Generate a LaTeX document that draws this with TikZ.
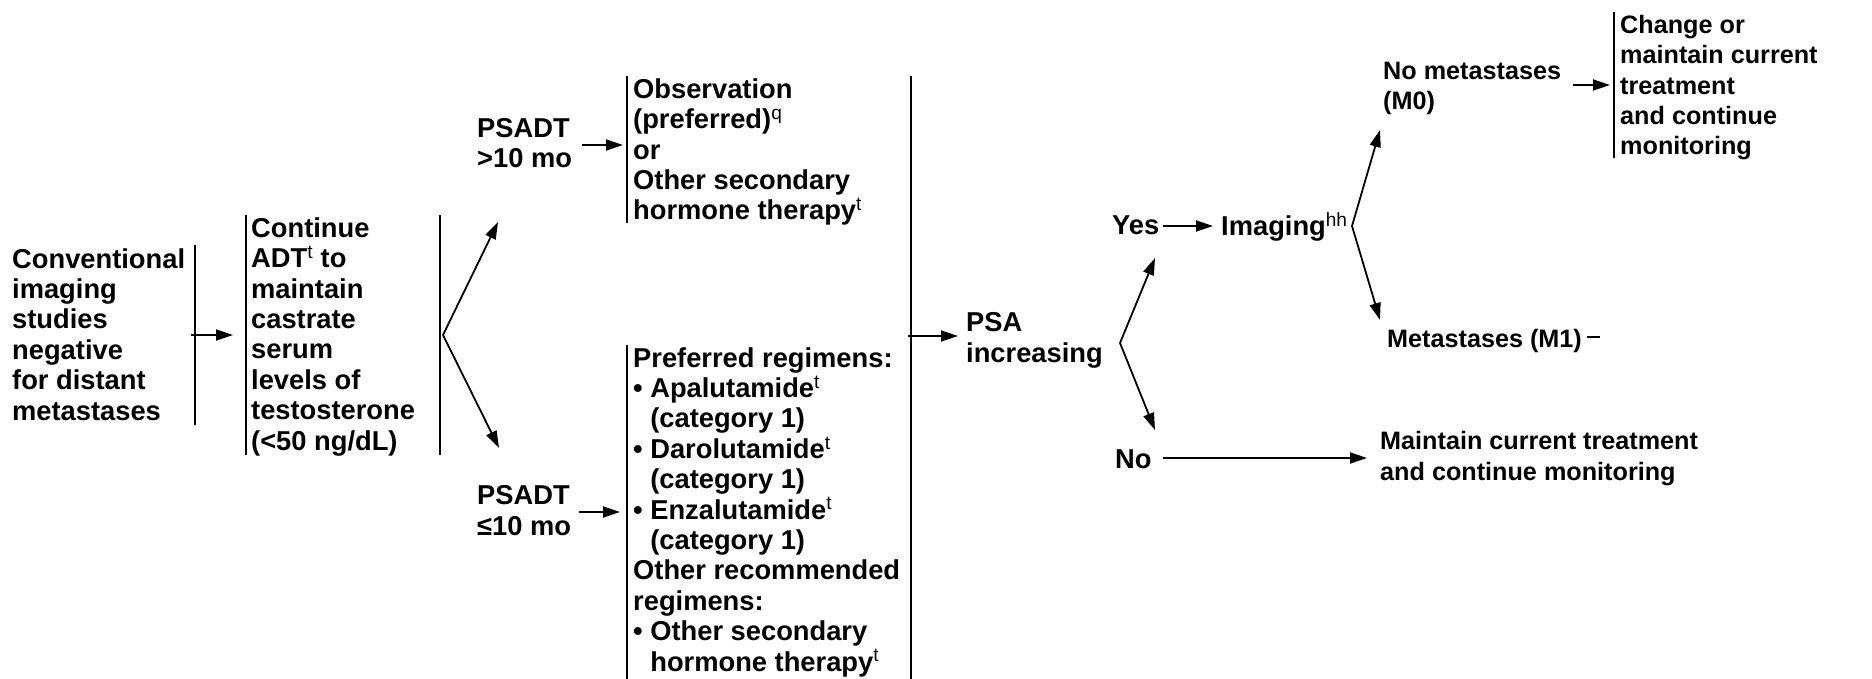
\documentclass[tikz,border=0pt]{standalone}
\usepackage{fontspec}
\setmainfont{Liberation Sans}
\usetikzlibrary{arrows.meta}
% superscript footnote marks, set in medium weight
\newcommand\supr[1]{\textsuperscript{\mdseries #1}}
\newcommand\hang{\phantom{\textbullet\ }}
\begin{document}
\begin{tikzpicture}[x=1pt,y=-1pt,
  % multi-line nodes are placed by the baseline of their last line
  txt/.style={anchor=base west, inner sep=0pt, align=left,
              font=\fontsize{27.3}{30.4}\selectfont\bfseries},
  small/.style={txt, font=\fontsize{25.2}{30.4}\selectfont\bfseries},
  bar/.style={line width=1.8pt},
  link/.style={line width=1.8pt},
  arr/.style={line width=1.8pt, -{Triangle[length=17pt,width=11pt]}}]
\useasboundingbox (0,0) rectangle (1872,679);

% ---- text nodes ----
\node[txt] (conv) at (12,420) {Conventional\\imaging\\studies\\negative\\for distant\\metastases};
\node[txt] (adt) at (251,450) {Continue\\ADT\supr{t} to\\maintain\\castrate\\serum\\levels of\\testosterone\\(<50 ng/dL)};
\node[txt] (hi) at (477,168) {PSADT\\>10 mo};
\node[txt] (lo) at (477,535) {PSADT\\≤10 mo};
\node[txt] (obs) at (633,220) {Observation\\(preferred)\supr{q}\\or\\Other secondary\\hormone therapy\supr{t}};
\node[txt] (reg) at (633,671) {Preferred regimens:\\\textbullet\ Apalutamide\supr{t}\\\hang(category 1)\\\textbullet\ Darolutamide\supr{t}\\\hang(category 1)\\\textbullet\ Enzalutamide\supr{t}\\\hang(category 1)\\Other recommended\\regimens:\\\textbullet\ Other secondary\\\hang hormone therapy\supr{t}};
\node[txt] (psa) at (966,362) {PSA\\increasing};
\node[txt] (yes) at (1112,235) {Yes};
\node[txt] (no) at (1115,468) {No};
\node[txt] (img) at (1221,236) {Imaging\supr{hh}};
\node[small] (m0) at (1383,110) {No metastases\\(M0)};
\node[small] (m1) at (1387,347) {Metastases (M1)};
\node[small] (chg) at (1620,155) {Change or\\maintain current\\treatment\\and continue\\monitoring};
\node[small] (keep) at (1380,480) {Maintain current treatment\\and continue monitoring};

% ---- bracket bars beside the text blocks ----
\coordinate (convbarT) at (195,245);  \coordinate (convbarB) at (195,425);
\coordinate (adtbarL1) at (246,215);  \coordinate (adtbarL2) at (246,455);
\coordinate (adtbarR1) at (440,215);  \coordinate (adtbarR2) at (440,455);
\coordinate (obsbarT) at (627,76);    \coordinate (obsbarB) at (627,223);
\coordinate (regbarT) at (627,345);   \coordinate (regbarB) at (627,679);
\coordinate (joinT) at (911,76);      \coordinate (joinB) at (911,679);
\coordinate (chgbarT) at (1614,12);   \coordinate (chgbarB) at (1614,158);
\draw[bar] (convbarT) -- (convbarB);
\draw[bar] (adtbarL1) -- (adtbarL2);
\draw[bar] (adtbarR1) -- (adtbarR2);
\draw[bar] (obsbarT) -- (obsbarB);
\draw[bar] (regbarT) -- (regbarB);
\draw[bar] (joinT) -- (joinB);
\draw[bar] (chgbarT) -- (chgbarB);

% ---- connector end points ----
\coordinate (convout) at (191,335);  \coordinate (adtin) at (233,335);
\coordinate (fork1) at (443,335);
\coordinate (hiin) at (498,222);     \coordinate (loin) at (499,448);
\coordinate (hiout) at (582,145);    \coordinate (obsin) at (623,145);
\coordinate (loout) at (579,512);    \coordinate (regin) at (620,512);
\coordinate (joinout) at (908,336);  \coordinate (psain) at (958,336);
\coordinate (fork2) at (1120,343);
\coordinate (yesin) at (1155,258);   \coordinate (noin) at (1155,430);
\coordinate (yesout) at (1163,226);  \coordinate (imgin) at (1213,226);
\coordinate (noout) at (1163,458);   \coordinate (keepin) at (1367,458);
\coordinate (fork3) at (1352,226);
\coordinate (m0in) at (1380,130);    \coordinate (m1in) at (1380,320);
\coordinate (m0out) at (1573,85);    \coordinate (chgin) at (1610,85);
\coordinate (m1out) at (1587,337);   \coordinate (m1end) at (1600,337);

% ---- connectors ----
\draw[arr] (convout) -- (adtin);
\draw[arr] (fork1) -- (hiin);
\draw[arr] (fork1) -- (loin);
\draw[arr] (hiout) -- (obsin);
\draw[arr] (loout) -- (regin);
\draw[arr] (joinout) -- (psain);
\draw[arr] (fork2) -- (yesin);
\draw[arr] (fork2) -- (noin);
\draw[arr] (yesout) -- (imgin);
\draw[arr] (noout) -- (keepin);
\draw[arr] (fork3) -- (m0in);
\draw[arr] (fork3) -- (m1in);
\draw[arr] (m0out) -- (chgin);
\draw[link] (m1out) -- (m1end);
\end{tikzpicture}
\end{document}
